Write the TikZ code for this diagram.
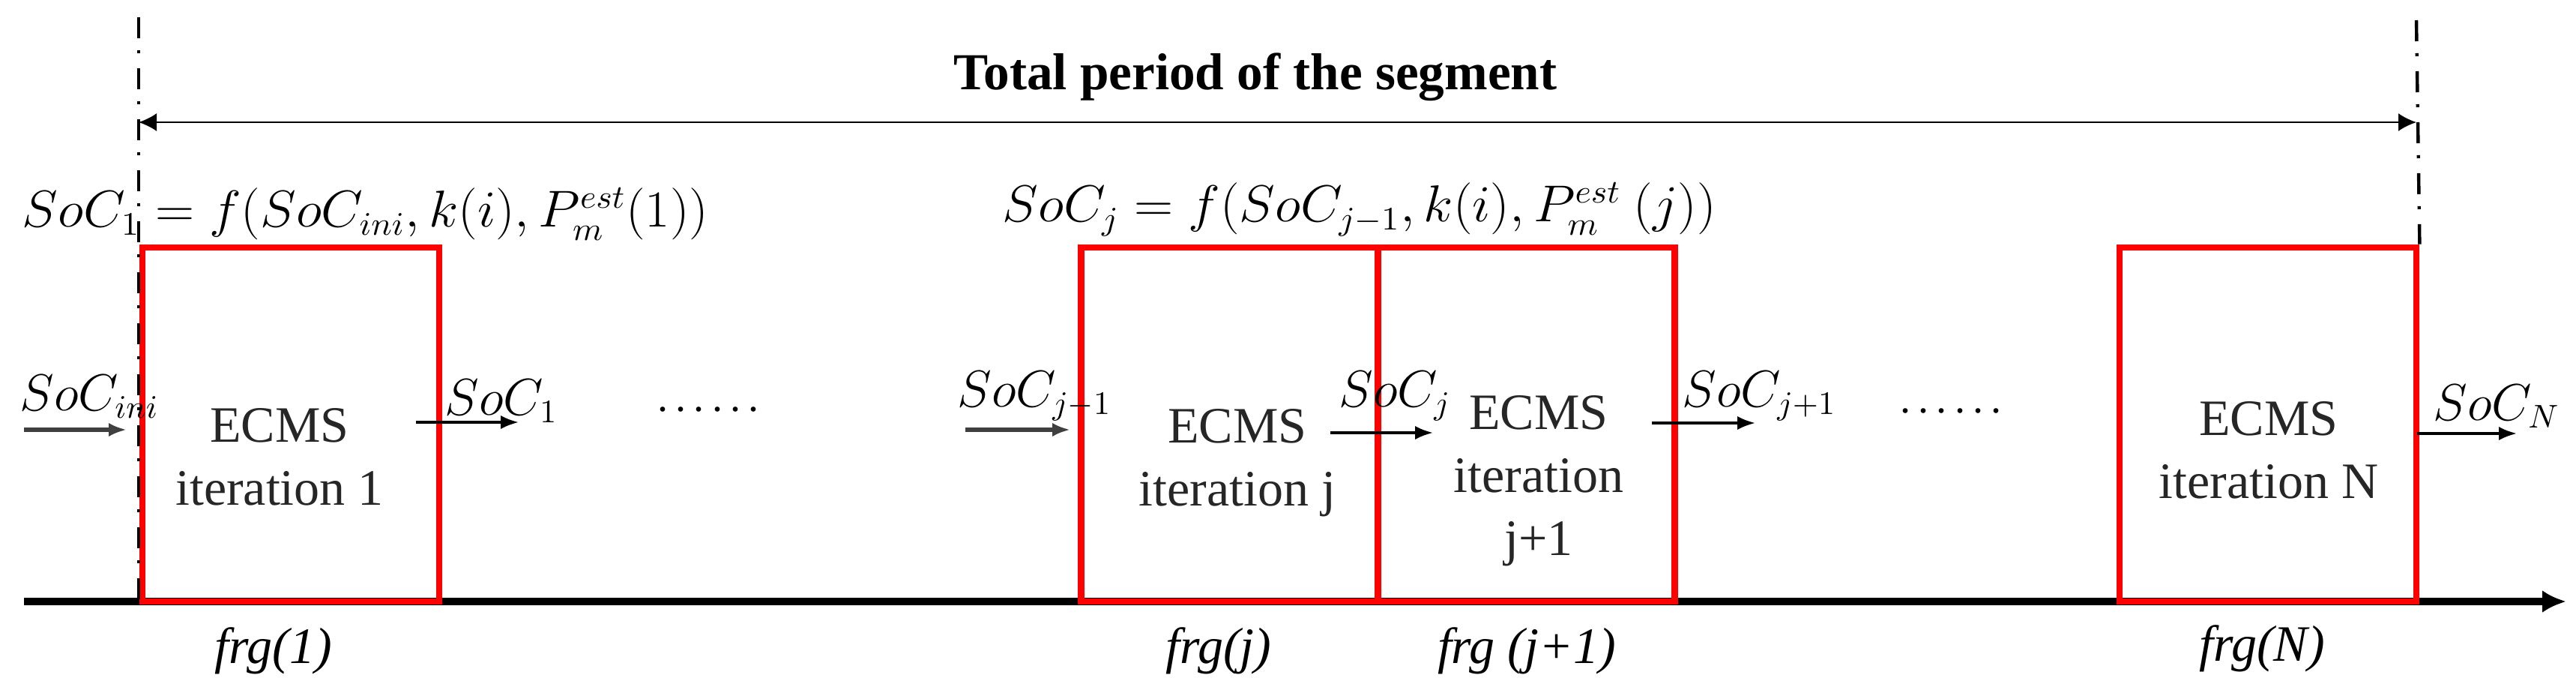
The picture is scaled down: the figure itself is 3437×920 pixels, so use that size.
\documentclass[tikz,border=0pt]{standalone}
\usepackage{fontspec}
\usepackage{graphicx}
\setmainfont{Liberation Serif}
\usetikzlibrary{arrows.meta}
\newcommand{\wideeq}[1]{\scalebox{1.045}[1]{$#1$}}
\newcommand{\dotrow}{.\kern2.6pt.\kern2.6pt.\kern2.6pt.\kern2.6pt.\kern2.6pt.}
\tikzset{
 redbox/.style={draw=red, line width=2.2pt, minimum width=99pt, minimum height=118pt, inner sep=0pt},
 boxtxt/.style={align=center, font=\fontsize{17}{21}\selectfont, text=black!85, inner sep=0pt},
 frglbl/.style={font=\fontsize{17}{20}\selectfont\itshape, inner sep=0pt},
 soclbl/.style={anchor=base west, font=\fontsize{16}{20}\selectfont, inner sep=0pt},
 eqlbl/.style={anchor=base west, font=\fontsize{16}{20}\selectfont, inner sep=0pt},
 dotslbl/.style={anchor=base, font=\fontsize{14}{18}\selectfont, inner sep=0pt},
 flowdark/.style={-{Latex[length=6pt,width=4.6pt]}, line width=1.3pt, black!75},
 flow/.style={-{Latex[length=6pt,width=4.6pt]}, line width=0.9pt},
 dashdot/.style={line width=1.1pt, dash pattern=on 7pt off 4pt on 1pt off 5pt},
}
\begin{document}
\begin{tikzpicture}[x=0.25pt, y=-0.25pt]
\useasboundingbox (0,0) rectangle (3437,920);
% axis
\coordinate (ax0) at (32,802);
\coordinate (ax1) at (3424,802);
\draw[line width=2.3pt, -{Latex[length=8pt,width=7.5pt]}] (ax0) -- (ax1);
% boxes
\node[redbox] (b1) at (388,566) {};
\node[redbox] (bj) at (1640.5,566) {};
\node[redbox] (bj1) at (2036.5,566) {};
\node[redbox] (bN) at (3026,566) {};
% dash-dot limits
\coordinate (lt) at (185,23);
\coordinate (lb) at (185,802);
\coordinate (rt) at (3224,27);
\draw[dashdot] (lt) -- (lb);
\draw[dashdot] (rt) -- (bN.north east);
% total period
\coordinate (pl) at (185,163);
\coordinate (pr) at (3224,163);
\draw[line width=0.6pt, {Latex[length=6pt,width=6pt]}-{Latex[length=6pt,width=6pt]}] (pl) -- (pr);
\node[anchor=base, font=\fontsize{17.3}{20}\selectfont\bfseries, inner sep=0pt] (title) at (1675,120) {Total period of the segment};
% equations
\node[eqlbl] (eq1) at (29,303) {\wideeq{SoC_1 = f(SoC_{ini}, k(i), P_m^{est}(1))}};
\node[eqlbl] (eq2) at (1337,296) {\wideeq{SoC_j = f(SoC_{j-1}, k(i), P_m^{est}\ (j))}};
% box texts
\node[boxtxt] (t1) at (373,609.5) {ECMS\\iteration 1};
\node[boxtxt] (tj) at (1651,617) {ECMS\\iteration j};
\node[boxtxt] (tj1) at (2053,641) {ECMS\\iteration\\j+1};
\node[boxtxt] (tN) at (3027,600.5) {ECMS\\iteration N};
% frg labels
\node[frglbl] (f1) at (365,868) {frg(1)};
\node[frglbl] (fj) at (1626,868) {frg(j)};
\node[frglbl] (fj1) at (2037,868) {frg (j+1)};
\node[frglbl] (fN) at (3018,865) {frg(N)};
% flow arrows
\coordinate (a0s) at (32,573);   \coordinate (a0e) at (169,573);
\coordinate (a1s) at (555,563);  \coordinate (a1e) at (692,563);
\coordinate (a2s) at (1288,573); \coordinate (a2e) at (1428,573);
\coordinate (a3s) at (1775,577); \coordinate (a3e) at (1912,577);
\coordinate (a4s) at (2204,564); \coordinate (a4e) at (2342,564);
\coordinate (a5s) at (3225,578); \coordinate (a5e) at (3358,578);
\draw[flowdark] (a0s) -- (a0e);
\draw[flow] (a1s) -- (a1e);
\draw[flowdark] (a2s) -- (a2e);
\draw[flow] (a3s) -- (a3e);
\draw[flow] (a4s) -- (a4e);
\draw[flow] (a5s) -- (a5e);
\node[soclbl] (l0) at (26,547) {$SoC_{ini}$};
\node[soclbl] (l1) at (593,553) {$SoC_1$};
\node[soclbl] (l2) at (1277,542) {$SoC_{j-1}$};
\node[soclbl] (l3) at (1786,542) {$SoC_j$};
\node[soclbl] (l4) at (2244,542) {$SoC_{j+1}$};
\node[soclbl] (l5) at (3246,560) {$SoC_N$};
\node[dotslbl] (d1) at (945,548) {\dotrow};
\node[dotslbl] (d2) at (2603,550) {\dotrow};
\end{tikzpicture}
\end{document}
